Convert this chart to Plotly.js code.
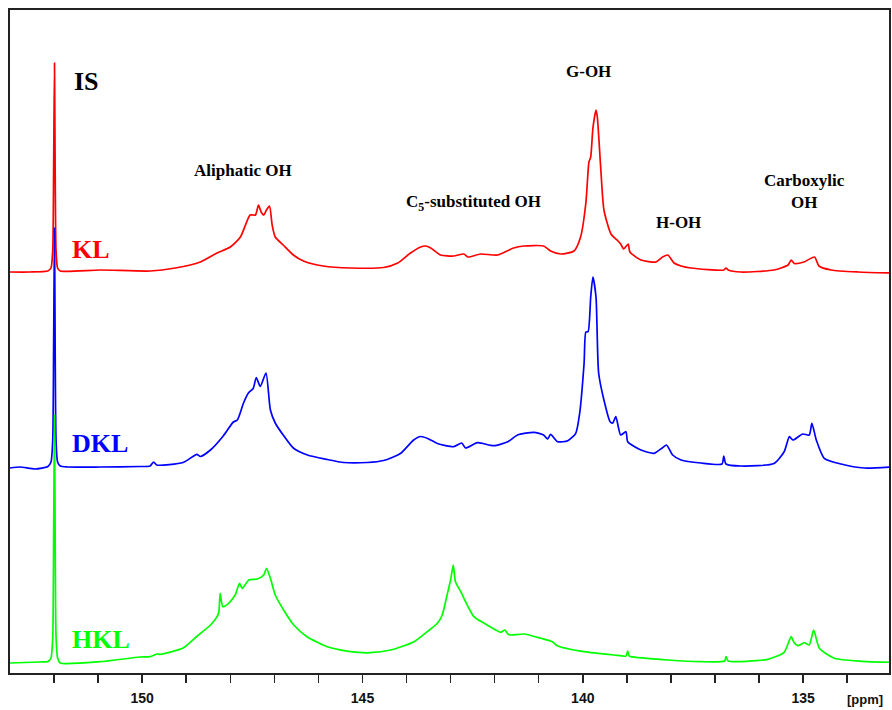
<!DOCTYPE html>
<html>
<head>
<meta charset="utf-8">
<script src="https://cdn.plot.ly/plotly-3.0.1.min.js"></script>
<style>
html,body{margin:0;padding:0;background:#fff;}
#chart{width:892px;height:710px;}
</style>
</head>
<body>
<div id="chart"></div>
<script>
// ---- Data (chemical shift in ppm, relative intensity) ----
const klPpm = [153.00,152.55,152.14,152.07,152.03,152.01,151.99,151.975,151.955,151.92,151.86,150.95,149.82,149.25,148.68,148.30,148.00,147.77,147.55,147.43,147.36,147.30,147.24,147.18,147.11,147.05,146.98,146.80,146.57,146.34,145.89,145.27,144.52,144.20,143.91,143.68,143.57,143.45,143.23,142.93,142.70,142.61,142.32,141.93,141.57,141.34,140.89,140.73,140.50,140.20,140.05,139.93,139.86,139.82,139.77,139.70,139.67,139.59,139.52,139.36,139.20,139.14,139.07,138.97,138.93,138.68,138.34,138.19,138.07,137.93,137.77,137.55,136.80,136.75,136.70,136.41,135.66,135.34,135.27,135.20,134.98,134.74,134.64,134.36,133.75,133.00];
const klInt = [0,0,1,4,22,102,209,102,22,4,1,2,1,4,10,19,25,35,57,57,67,60,57,62,66,47,35,27,17,11,6,4,4.5,9,19,25,26,24,17,16,18,15,18,17,24,26,26,21,18,21,35,69,110,115,144,162,155,102,62,38,31,28,23,28,20,12,10,15,17,9,6,4,2,4,2,0,2,7,12,8.5,10,15,6,2,0,-1];

const dklPpm = [153.00,152.77,152.43,152.14,152.07,152.03,152.01,151.99,151.975,151.955,151.92,151.86,151.70,150.95,150.05,149.82,149.74,149.67,149.07,148.76,148.68,148.45,148.16,147.93,147.84,147.70,147.59,147.48,147.41,147.32,147.19,147.09,146.98,146.80,146.57,146.25,145.80,145.43,144.89,144.52,144.14,143.84,143.68,143.52,143.30,142.93,142.75,142.66,142.39,142.02,141.70,141.48,141.11,140.89,140.80,140.73,140.57,140.34,140.16,140.07,139.97,139.93,139.88,139.82,139.77,139.70,139.64,139.52,139.38,139.32,139.25,139.14,139.02,138.98,138.68,138.38,138.19,138.10,137.96,137.77,137.32,136.84,136.80,136.75,136.41,135.66,135.43,135.31,135.23,135.01,134.86,134.80,134.70,134.52,134.14,133.61,133.00];
const dklInt = [-1,0,-2,0.5,5,27,120,239,120,27,5,1,0,0,0.5,1,5,2,4.5,12.7,10.5,17,31,45,47,64,74,78.5,89.5,80.5,94,57,44,32,19,12,7.5,4.5,4.5,6.5,13.5,27,30.5,28.5,23.5,20.3,24,19,24.3,21.3,25.3,32,34.7,32,28,32.7,25.3,26.3,33.7,54,104,135,135.3,170,190,170,94,67,45.3,44,50.3,32,35.3,25.3,17,13.7,19.3,22,12,7,4,3,11,3,1,3.5,15.3,30.3,27,33,32,43.7,27,8.7,3,-1,0];

const hklPpm = [153.00,152.32,152.14,152.07,152.03,152.01,151.99,151.975,151.955,151.92,151.86,150.95,150.05,149.82,149.66,149.59,149.07,148.75,148.45,148.30,148.26,148.23,148.17,148.04,147.89,147.79,147.73,147.58,147.39,147.24,147.18,147.09,146.98,146.79,146.56,146.26,145.80,145.27,144.82,144.36,143.83,143.53,143.30,143.19,143.08,143.00,142.94,142.89,142.77,142.47,142.17,141.86,141.77,141.70,141.64,141.33,140.95,140.69,140.58,139.97,139.29,139.02,138.98,138.95,138.91,138.07,137.32,136.78,136.75,136.70,135.80,135.43,135.27,135.21,135.12,134.97,134.86,134.76,134.63,134.29,133.53,132.95];
const hklInt = [-1,0,0.5,4,25,125,247,125,25,4,-1,0.3,5,5.3,8,7.7,14,26,37,45.3,50,68.7,55.3,58.7,67,78.7,73.7,82,83,87,93.7,83.7,67,52,37,25.3,15.3,10.3,9.3,12,20.3,30.3,38.7,47,67,82,97,80.3,70.3,45.3,37,29.7,32,28,27,28,23.7,20.3,16.3,10.3,7,6,11,6,5.3,2,0.3,1,5.3,1,2.7,9.7,25.3,19.7,16.3,19.3,17,32,13.7,3.7,0.3,-0.3];

const sampleNames = ["KL", "DKL", "HKL"];
const majorTickVals = [150, 145, 140, 135];
const majorTickText = ["150", "145", "140", "135"];
const minorTickVals = [152,151,149,148,147,146,144,143,142,141,139,138,137,136,134];

// ---- styling / stacking ----
const colors = ["#ff0000", "#0000ff", "#00ff00"];
const offsets = [401, 206, 11];
const series = [[klPpm, klInt], [dklPpm, dklInt], [hklPpm, hklInt]];

const traces = series.map((s, i) => ({
  x: s[0],
  y: s[1].map(v => v + offsets[i]),
  type: "scatter",
  mode: "lines",
  line: {color: colors[i], width: 1.7, shape: "spline", smoothing: 0.6},
  name: sampleNames[i],
  hoverinfo: "skip"
}));

const serif = "Liberation Serif, Times New Roman, serif";
const ann = (text, x, y, size, color, xanchor) => ({
  text: "<b>" + text + "</b>", x: x, y: y, xref: "x", yref: "y",
  showarrow: false, xanchor: xanchor || "center", yanchor: "middle",
  font: {family: serif, size: size, color: color || "#000"}
});

const annotations = [
  ann("IS", 151.60, 592, 26, "#000", "left"),
  ann(sampleNames[0], 151.64, 424, 26, colors[0], "left"),
  ann(sampleNames[1], 151.64, 230, 26, colors[1], "left"),
  ann(sampleNames[2], 151.64, 34, 26, colors[2], "left"),
  ann("Aliphatic OH", 147.72, 503, 17),
  ann("C<sub>5</sub>-substituted OH", 142.47, 470, 17),
  ann("G-OH", 139.86, 602, 17),
  ann("H-OH", 137.83, 451, 17),
  ann("Carboxylic<br>OH", 134.96, 482, 17),
  {text: "<b>[ppm]</b>", xref: "paper", yref: "paper", x: 0.973, y: -0.04,
   showarrow: false, xanchor: "center", yanchor: "middle",
   font: {family: "Liberation Sans, Arial, sans-serif", size: 13, color: "#111"}}
];

const tickColor = "#222";
const layout = {
  width: 892, height: 710,
  margin: {l: 10, r: 3, t: 10, b: 37},
  paper_bgcolor: "#fff", plot_bgcolor: "#fff",
  showlegend: false,
  xaxis: {
    range: [153, 133.05], autorange: false,
    tickmode: "array", tickvals: majorTickVals, ticktext: majorTickText,
    ticks: "outside", ticklen: 8, tickwidth: 1.5, tickcolor: tickColor,
    ticklabelstandoff: 3,
    minor: {tickmode: "array", tickvals: minorTickVals, ticks: "outside", ticklen: 8, tickwidth: 1.5, tickcolor: tickColor, showgrid: false},
    showline: true, mirror: true, linecolor: "#222", linewidth: 2,
    showgrid: false, zeroline: false,
    tickfont: {family: "Liberation Sans, Arial, sans-serif", size: 14, color: "#111", weight: "bold"}
  },
  yaxis: {
    range: [0, 663], autorange: false,
    showticklabels: false, ticks: "",
    showline: true, mirror: true, linecolor: "#222", linewidth: 2,
    showgrid: false, zeroline: false
  },
  annotations: annotations
};

Plotly.newPlot("chart", traces, layout, {displayModeBar: false, staticPlot: true});
</script>
</body>
</html>
